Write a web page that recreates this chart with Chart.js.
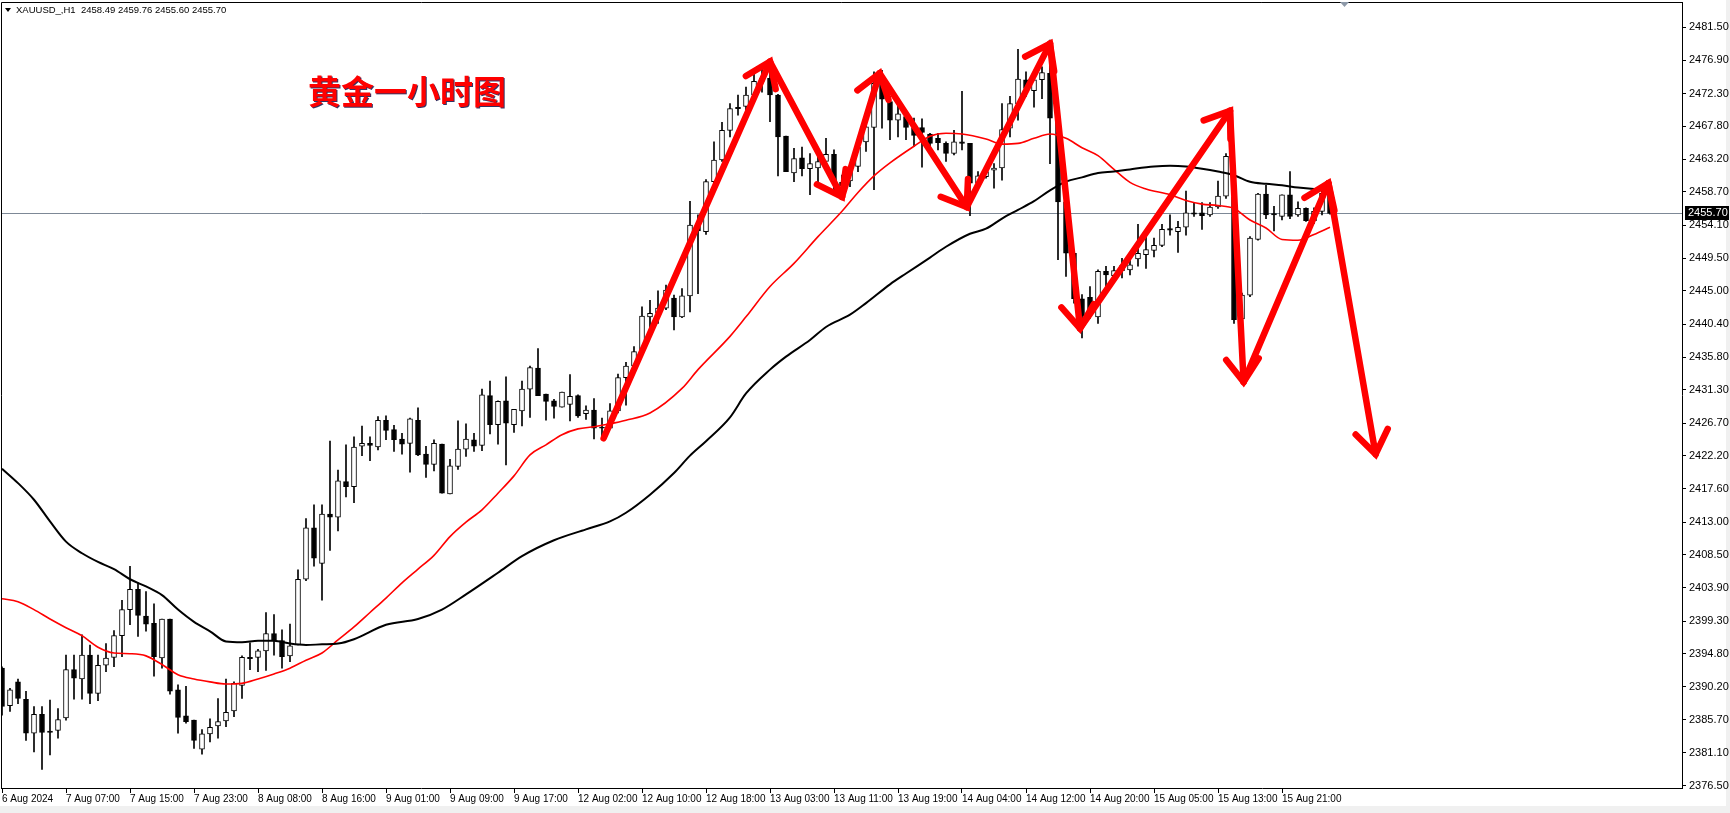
<!DOCTYPE html>
<html>
<head>
<meta charset="utf-8">
<script src="https://cdn.jsdelivr.net/npm/chart.js@4.4.1/dist/chart.umd.min.js"></script>
<style>
  html, body { margin: 0; padding: 0; background: #fff; }
  #wrap { width: 1730px; height: 813px; }
</style>
</head>
<body>
<div id="wrap"><canvas id="xau" width="1730" height="813"></canvas></div>
<script>
// XAUUSD H1 candles, bar 0 = 6 Aug 23:00
const opens = [
  2392.8, 2387.6, 2390.9, 2388.5, 2383.8, 2386.4, 2384.1, 2384.2, 2385.9, 2392.6,
  2391.3, 2394.6, 2389.3, 2393.2, 2394.3, 2397.3, 2400.9, 2403.7, 2400.0, 2399.0,
  2394.2, 2399.6, 2389.8, 2386.2, 2385.6, 2381.6, 2383.7, 2384.8, 2385.5, 2386.9,
  2390.4, 2394.3, 2394.3, 2395.2, 2397.6, 2396.6, 2394.5, 2396.0, 2405.1, 2412.2,
  2407.3, 2414.1, 2413.7, 2418.6, 2417.9, 2423.5, 2423.9, 2423.4, 2427.1, 2425.8,
  2424.5, 2423.9, 2427.1, 2422.4, 2421.0, 2423.8, 2416.9, 2420.7, 2423.1, 2424.4,
  2423.6, 2430.5, 2426.5, 2429.8, 2426.5, 2428.4, 2431.4, 2434.3, 2430.7, 2429.8,
  2428.9, 2429.3, 2430.5, 2428.0, 2428.5, 2426.1, 2426.0, 2428.4, 2433.0, 2434.6,
  2436.6, 2441.4, 2441.9, 2442.6, 2444.0, 2441.4, 2444.3, 2454.1, 2453.2, 2460.1,
  2463.1, 2467.2, 2470.4, 2470.5, 2472.1, 2474.0, 2474.4, 2472.1, 2466.4, 2461.3,
  2463.4, 2461.9, 2462.0, 2462.9, 2463.9, 2460.0, 2460.2, 2462.2, 2465.6, 2467.6,
  2473.7, 2471.2, 2468.6, 2469.1, 2467.6, 2467.6, 2466.7, 2466.1, 2465.4, 2464.0,
  2465.6, 2465.4, 2459.9, 2460.8, 2461.7, 2462.0, 2467.5, 2470.9, 2474.2, 2472.7,
  2474.2, 2475.1, 2468.9, 2457.3, 2450.2, 2443.9, 2444.1, 2441.4, 2447.7, 2447.1,
  2447.8, 2447.9, 2449.4, 2450.0, 2450.6, 2451.3, 2453.6, 2453.2, 2453.8, 2455.8,
  2455.8, 2455.5, 2456.6, 2458.1, 2458.0, 2441.1, 2444.4, 2452.1, 2458.4, 2455.7,
  2455.3, 2458.3, 2455.5, 2456.4, 2454.7, 2456.0, 2458.49
];
const highs = [
  2393.0, 2390.0, 2391.3, 2389.6, 2387.5, 2387.5, 2388.4, 2387.2, 2394.6, 2394.6,
  2397.4, 2396.0, 2394.6, 2396.2, 2398.0, 2402.2, 2406.9, 2404.6, 2403.4, 2401.7,
  2399.6, 2399.6, 2390.5, 2390.3, 2385.6, 2384.3, 2385.8, 2388.6, 2391.3, 2390.9,
  2394.5, 2396.3, 2395.4, 2400.5, 2400.2, 2398.1, 2398.9, 2406.4, 2413.5, 2415.4,
  2415.4, 2424.2, 2420.2, 2423.7, 2424.8, 2426.3, 2424.8, 2427.6, 2427.7, 2426.4,
  2425.3, 2427.4, 2428.8, 2423.5, 2424.4, 2423.8, 2421.7, 2427.0, 2426.6, 2425.3,
  2431.4, 2432.5, 2429.8, 2433.1, 2428.6, 2432.5, 2434.6, 2437.0, 2430.7, 2430.0,
  2431.0, 2433.4, 2430.6, 2429.1, 2430.1, 2427.4, 2429.4, 2433.5, 2435.1, 2437.3,
  2442.8, 2443.7, 2445.0, 2445.8, 2444.4, 2445.3, 2457.4, 2455.5, 2460.4, 2465.6,
  2468.3, 2470.9, 2472.1, 2473.2, 2475.2, 2476.0, 2476.8, 2472.2, 2466.4, 2464.7,
  2464.9, 2464.0, 2464.0, 2466.1, 2464.5, 2461.0, 2462.4, 2465.9, 2469.1, 2475.3,
  2475.5, 2471.9, 2470.9, 2470.0, 2468.9, 2468.8, 2466.8, 2466.8, 2465.6, 2467.2,
  2472.6, 2465.4, 2461.5, 2462.2, 2462.6, 2470.9, 2471.9, 2478.4, 2475.3, 2475.3,
  2476.0, 2479.7, 2468.9, 2457.6, 2450.2, 2444.5, 2445.6, 2447.9, 2448.4, 2448.4,
  2449.5, 2449.3, 2454.2, 2453.4, 2452.3, 2454.2, 2455.5, 2454.6, 2458.8, 2457.1,
  2457.2, 2457.2, 2460.2, 2464.0, 2459.0, 2444.7, 2452.5, 2458.5, 2459.6, 2456.7,
  2458.3, 2461.5, 2457.3, 2456.5, 2456.5, 2458.8, 2459.76
];
const lows = [
  2386.3, 2386.8, 2387.9, 2382.8, 2381.2, 2378.8, 2380.8, 2383.1, 2385.6, 2388.5,
  2388.5, 2387.9, 2388.3, 2392.3, 2393.0, 2394.4, 2398.8, 2397.2, 2397.9, 2391.7,
  2392.8, 2389.2, 2383.8, 2385.2, 2381.7, 2380.9, 2382.6, 2383.1, 2384.7, 2386.1,
  2388.6, 2392.6, 2392.3, 2392.5, 2394.6, 2392.8, 2393.7, 2396.0, 2404.9, 2406.9,
  2402.2, 2409.1, 2411.8, 2416.5, 2415.7, 2422.2, 2421.5, 2423.0, 2424.4, 2422.8,
  2422.4, 2419.9, 2422.2, 2419.2, 2420.1, 2417.0, 2416.9, 2420.3, 2422.1, 2422.8,
  2422.9, 2425.2, 2423.8, 2420.9, 2425.4, 2426.3, 2427.5, 2430.5, 2427.1, 2427.4,
  2428.9, 2427.0, 2427.5, 2427.2, 2424.5, 2424.7, 2426.0, 2428.1, 2429.2, 2434.0,
  2436.1, 2439.6, 2440.5, 2442.4, 2439.6, 2441.3, 2442.1, 2444.6, 2452.8, 2459.9,
  2462.9, 2466.3, 2469.3, 2470.0, 2471.0, 2472.5, 2468.4, 2460.9, 2461.5, 2460.1,
  2460.9, 2458.3, 2460.0, 2461.5, 2459.0, 2457.8, 2459.4, 2461.5, 2464.3, 2459.0,
  2467.5, 2465.9, 2466.3, 2465.9, 2465.0, 2462.1, 2464.0, 2464.5, 2462.9, 2463.8,
  2464.5, 2455.4, 2459.4, 2460.6, 2459.2, 2460.3, 2466.3, 2468.6, 2471.9, 2470.4,
  2471.6, 2462.6, 2449.3, 2447.0, 2443.3, 2438.5, 2441.2, 2440.5, 2445.6, 2446.5,
  2446.8, 2447.2, 2448.4, 2448.1, 2449.7, 2451.1, 2452.7, 2450.3, 2452.7, 2455.3,
  2453.5, 2455.3, 2456.4, 2457.8, 2440.5, 2441.0, 2444.2, 2452.0, 2455.0, 2453.3,
  2454.8, 2455.0, 2455.3, 2454.6, 2454.3, 2455.5, 2455.60
];
const closes = [
  2387.5, 2389.8, 2388.6, 2383.8, 2386.4, 2383.9, 2383.9, 2385.7, 2392.6, 2391.4,
  2394.6, 2389.3, 2393.2, 2394.2, 2397.3, 2400.9, 2403.7, 2400.1, 2398.9, 2394.4,
  2399.6, 2389.6, 2386.0, 2385.4, 2382.8, 2383.7, 2384.6, 2385.4, 2386.7, 2390.7,
  2394.3, 2394.1, 2395.2, 2397.6, 2396.6, 2394.4, 2395.9, 2405.1, 2412.2, 2408.0,
  2414.1, 2413.7, 2418.7, 2417.9, 2423.4, 2423.9, 2423.6, 2427.1, 2425.7, 2424.4,
  2423.8, 2427.3, 2422.3, 2421.0, 2423.9, 2417.0, 2420.8, 2423.1, 2424.5, 2423.5,
  2430.6, 2426.5, 2429.7, 2426.7, 2428.6, 2431.4, 2434.4, 2430.5, 2429.7, 2429.0,
  2431.0, 2430.4, 2427.7, 2428.5, 2426.0, 2426.0, 2428.4, 2433.0, 2434.6, 2436.6,
  2441.5, 2441.9, 2442.6, 2445.1, 2441.4, 2444.3, 2454.1, 2453.3, 2460.1, 2463.1,
  2467.2, 2470.2, 2470.2, 2472.1, 2474.0, 2474.4, 2472.1, 2466.3, 2461.5, 2463.3,
  2461.9, 2462.6, 2462.9, 2463.9, 2460.0, 2459.5, 2461.4, 2464.9, 2467.7, 2473.7,
  2471.5, 2468.6, 2469.5, 2467.6, 2466.5, 2466.9, 2465.4, 2465.5, 2464.0, 2465.6,
  2465.4, 2459.9, 2460.9, 2461.5, 2462.0, 2467.3, 2470.9, 2474.3, 2473.0, 2474.2,
  2475.2, 2468.9, 2457.3, 2450.2, 2443.9, 2441.5, 2442.4, 2447.7, 2447.2, 2447.8,
  2448.5, 2448.6, 2450.2, 2450.7, 2451.3, 2453.5, 2453.4, 2453.8, 2455.8, 2455.6,
  2455.4, 2456.6, 2458.1, 2463.6, 2441.0, 2444.4, 2452.3, 2458.4, 2455.5, 2455.5,
  2458.3, 2455.3, 2456.4, 2454.7, 2456.0, 2458.5, 2455.70
];

// moving averages (bar index, price)
const redMaBars = [0, 2, 4, 6, 8, 10, 12, 14, 16, 18, 20, 22, 24, 26, 28, 30, 32, 34, 36, 38,
  40, 42, 44, 46, 48, 50, 52, 54, 56, 58, 60, 62, 64, 66, 68, 70, 72, 74, 76, 78,
  81, 85, 87, 91, 93, 96, 99, 102, 105, 107, 109, 111, 114, 116, 118, 120, 123, 125, 127, 129,
  131, 133, 135, 137, 139, 141, 143, 146, 148, 150, 152, 154, 156, 158, 160, 162, 164, 166];
const redMaValues = [2402.4, 2402.0, 2400.9, 2399.6, 2398.4, 2397.3, 2395.7, 2394.9, 2394.8, 2394.5,
  2393.3, 2391.9, 2391.3, 2390.9, 2390.6, 2390.7, 2391.3, 2392.0, 2392.8, 2393.9,
  2394.9, 2396.7, 2398.5, 2400.5, 2402.5, 2404.6, 2406.5, 2408.4, 2411.0, 2413.0,
  2414.7, 2417.0, 2419.4, 2422.3, 2423.7, 2425.1, 2425.9, 2426.2, 2426.6, 2427.1,
  2428.1, 2431.5, 2434.1, 2438.7, 2441.4, 2445.6, 2448.8, 2452.5, 2456.0, 2458.6,
  2460.9, 2462.7, 2465.0, 2466.4, 2466.8, 2466.7, 2466.0, 2465.3, 2465.4, 2466.1,
  2466.7, 2466.1, 2464.8, 2463.7, 2461.8, 2460.0, 2459.1, 2458.3, 2457.5, 2457.0,
  2456.8, 2456.4, 2454.8, 2453.7, 2452.1, 2452.0, 2452.8, 2453.8];
const blackMaBars = [0, 2, 4, 6, 8, 10, 12, 14, 16, 18, 20, 22, 24, 26, 28, 30, 32, 34, 36, 38,
  40, 42, 44, 48, 52, 55, 58, 62, 65, 69, 73, 76, 78, 81, 84, 86, 88, 91, 93, 96,
  98, 101, 103, 106, 108, 111, 113, 116, 118, 121, 123, 125, 127, 129, 131, 133, 135, 137, 139, 141,
  144, 146, 148, 150, 152, 154, 156, 158, 160, 162, 164, 166];
const blackMaValues = [2420.4, 2418.4, 2416.1, 2413.1, 2410.3, 2408.7, 2407.5, 2406.5, 2405.1, 2404.1,
  2402.9, 2400.9, 2399.2, 2397.9, 2396.5, 2396.4, 2396.6, 2396.6, 2396.2, 2396.0,
  2396.1, 2396.2, 2396.8, 2398.8, 2399.6, 2400.9, 2403.0, 2406.0, 2408.3, 2410.5,
  2412.0, 2413.1, 2414.3, 2416.8, 2419.8, 2422.2, 2424.2, 2427.5, 2430.8, 2434.1,
  2435.9, 2438.2, 2440.0, 2441.7, 2443.3, 2445.9, 2447.4, 2449.6, 2451.1, 2452.9,
  2453.6, 2455.0, 2456.2, 2457.4, 2458.9, 2460.1, 2460.7, 2461.3, 2461.5, 2461.8,
  2462.2, 2462.3, 2462.2, 2461.9, 2461.5, 2461.0, 2460.1, 2459.8, 2459.6, 2459.3, 2459.1, 2459.0];

// hand-drawn zigzag arrows (bar index, price)
const arrowBars = [75.2, 96.0, 105.0, 109.7, 120.6, 131.0, 134.75, 153.5, 155.2, 165.8, 171.7];
const arrowPrices = [2424.6, 2476.7, 2458.0, 2475.1, 2456.6, 2479.2, 2439.8, 2469.9, 2432.4, 2459.9, 2422.4];

const tickBars = [0, 8, 16, 24, 32, 40, 48, 56, 64, 72, 80, 88, 96, 104, 112, 120, 128, 136, 144, 152, 160];
const timeLabels = ["6 Aug 2024", "7 Aug 07:00", "7 Aug 15:00", "7 Aug 23:00", "8 Aug 08:00", "8 Aug 16:00",
  "9 Aug 01:00", "9 Aug 09:00", "9 Aug 17:00", "12 Aug 02:00", "12 Aug 10:00", "12 Aug 18:00",
  "13 Aug 03:00", "13 Aug 11:00", "13 Aug 19:00", "14 Aug 04:00", "14 Aug 12:00", "14 Aug 20:00",
  "15 Aug 05:00", "15 Aug 13:00", "15 Aug 21:00"];
const priceTicks = [2481.5, 2476.9, 2472.3, 2467.8, 2463.2, 2458.7, 2454.1, 2449.5, 2445.0, 2440.4,
  2435.8, 2431.3, 2426.7, 2422.2, 2417.6, 2413.0, 2408.5, 2403.9, 2399.3, 2394.8, 2390.2, 2385.7,
  2381.1, 2376.5];

const symbol = "XAUUSD_,H1";
const title = "黄金一小时图";
const bidPrice = 2455.70;

const FONT = '"Liberation Sans", Arial, sans-serif';

// build datasets
const bodies = opens.map((o, i) => ({ x: i, y: [o, closes[i]] }));
const wicks = highs.map((h, i) => ({ x: i, y: [lows[i], h] }));
const bodyColors = opens.map((o, i) => (closes[i] >= o ? "#ffffff" : "#000000"));
const redMa = redMaBars.map((b, i) => ({ x: b, y: redMaValues[i] }));
const blackMa = blackMaBars.map((b, i) => ({ x: b, y: blackMaValues[i] }));

function drawArrow(ctx, x0, y0, x1, y1) {
  ctx.beginPath();
  ctx.moveTo(x0, y0);
  ctx.lineTo(x1, y1);
  ctx.stroke();
  const ang = Math.atan2(y1 - y0, x1 - x0);
  const len = 28, spread = 0.62;
  ctx.beginPath();
  ctx.moveTo(x1 - len * Math.cos(ang - spread), y1 - len * Math.sin(ang - spread));
  ctx.lineTo(x1, y1);
  ctx.lineTo(x1 - len * Math.cos(ang + spread), y1 - len * Math.sin(ang + spread));
  ctx.stroke();
}

const overlay = {
  id: "overlay",
  beforeDraw(chart) {
    const ctx = chart.ctx;
    ctx.save();
    ctx.fillStyle = "#ffffff";
    ctx.fillRect(0, 0, chart.width, chart.height);
    ctx.fillStyle = "#f0f0f0";
    ctx.fillRect(0, 806, chart.width, 7);
    ctx.fillRect(1726, 0, 4, chart.height);
    ctx.restore();
  },
  beforeDatasetsDraw(chart) {
    const { ctx, chartArea: a, scales: { y } } = chart;
    const py = Math.round(y.getPixelForValue(bidPrice)) + 0.5;
    ctx.save();
    ctx.strokeStyle = "#7d8896";
    ctx.lineWidth = 1;
    ctx.beginPath();
    ctx.moveTo(a.left, py);
    ctx.lineTo(a.right, py);
    ctx.stroke();
    ctx.restore();
  },
  afterDatasetsDraw(chart) {
    const { ctx, scales: { x, y } } = chart;
    ctx.save();
    // zigzag arrows
    ctx.strokeStyle = "#ff0000";
    ctx.lineWidth = 6.5;
    ctx.lineCap = "round";
    ctx.lineJoin = "miter";
    for (let i = 1; i < arrowBars.length; i++) {
      drawArrow(ctx,
        x.getPixelForValue(arrowBars[i - 1]), y.getPixelForValue(arrowPrices[i - 1]),
        x.getPixelForValue(arrowBars[i]), y.getPixelForValue(arrowPrices[i]));
    }
    // title
    ctx.font = 'bold 33px "Noto Sans CJK SC", sans-serif';
    ctx.textBaseline = "middle";
    ctx.textAlign = "left";
    ctx.shadowColor = "rgba(0,0,60,0.8)";
    ctx.shadowOffsetX = 1;
    ctx.shadowOffsetY = 1;
    ctx.fillStyle = "#ff0000";
    ctx.fillText(title, 308, 91);
    ctx.restore();
  },
  afterDraw(chart) {
    const { ctx, chartArea: a, scales: { y } } = chart;
    ctx.save();
    // frame
    ctx.strokeStyle = "#000";
    ctx.lineWidth = 1;
    ctx.beginPath();
    ctx.moveTo(a.left + 0.5, a.bottom);
    ctx.lineTo(a.left + 0.5, a.top + 0.5);
    ctx.lineTo(a.right, a.top + 0.5);
    ctx.stroke();
    // header
    ctx.fillStyle = "#000";
    ctx.beginPath();
    ctx.moveTo(5, 8); ctx.lineTo(11, 8); ctx.lineTo(8, 12); ctx.closePath();
    ctx.fill();
    ctx.font = "9.5px " + FONT;
    ctx.textBaseline = "middle";
    const last = opens.length - 1;
    ctx.fillText(symbol + "  " + [opens[last], highs[last], lows[last], closes[last]].map(v => v.toFixed(2)).join(" "), 16, 10);
    // chart shift marker
    ctx.fillStyle = "#8d99a8";
    ctx.beginPath();
    ctx.moveTo(1340, 2); ctx.lineTo(1349, 2); ctx.lineTo(1344.5, 7); ctx.closePath();
    ctx.fill();
    // bid label
    const py = Math.round(y.getPixelForValue(bidPrice));
    ctx.font = "11px " + FONT;
    ctx.fillStyle = "#000";
    ctx.fillRect(a.right + 3, py - 7, 44, 14);
    ctx.fillStyle = "#fff";
    ctx.fillText(bidPrice.toFixed(2), a.right + 6, py);
    ctx.restore();
  }
};

new Chart(document.getElementById("xau"), {
  type: "bar",
  data: {
    datasets: [
      { type: "line", data: blackMa, borderColor: "#000000", borderWidth: 2, pointRadius: 0,
        cubicInterpolationMode: "monotone", order: 0 },
      { type: "line", data: redMa, borderColor: "#ff0000", borderWidth: 1.6, pointRadius: 0,
        cubicInterpolationMode: "monotone", order: 0 },
      { data: bodies, backgroundColor: bodyColors, borderColor: "#000000", borderWidth: 1,
        borderSkipped: false, barThickness: 5, grouped: false, minBarLength: 1, order: 1 },
      { data: wicks, backgroundColor: "#000000", borderWidth: 0,
        barThickness: 1, grouped: false, order: 2 }
    ]
  },
  options: {
    responsive: false,
    animation: false,
    layout: { padding: { left: 1, top: 2, right: 0, bottom: 0 } },
    plugins: { legend: { display: false }, tooltip: { enabled: false } },
    scales: {
      x: {
        type: "linear",
        offset: false,
        min: -0.125,
        max: 210,
        afterBuildTicks: s => { s.ticks = tickBars.map(v => ({ value: v })); },
        afterFit: s => { s.height = 25; s.paddingLeft = 0; s.paddingRight = 0; },
        ticks: {
          autoSkip: false, maxRotation: 0, align: "start", padding: 0,
          color: "#000", font: { family: FONT, size: 10 },
          callback: v => timeLabels[tickBars.indexOf(v)]
        },
        grid: { drawOnChartArea: false, offset: false, tickLength: 5, color: "#000" },
        border: { display: true, color: "#000" }
      },
      y: {
        position: "right",
        min: 2376.22,
        max: 2484.96,
        afterBuildTicks: s => { s.ticks = priceTicks.map(v => ({ value: v })); },
        afterFit: s => { s.width = 48; s.paddingTop = 0; s.paddingBottom = 0; },
        ticks: {
          crossAlign: "near", padding: 3, color: "#000",
          font: { family: FONT, size: 11 },
          callback: v => v.toFixed(2)
        },
        grid: { drawOnChartArea: false, tickLength: 4, color: "#000" },
        border: { display: true, color: "#000" }
      }
    }
  },
  plugins: [overlay]
});
</script>
</body>
</html>
